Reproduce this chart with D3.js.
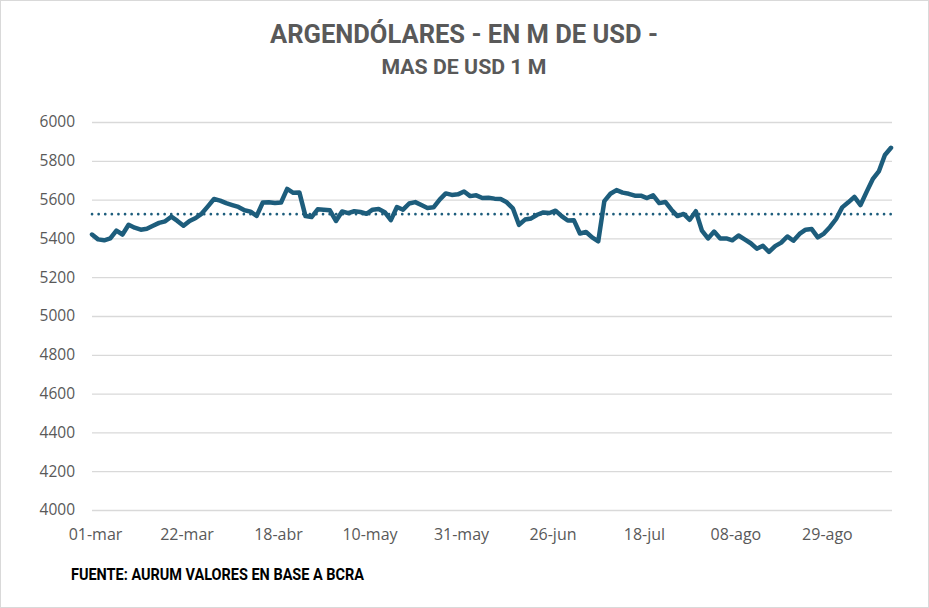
<!DOCTYPE html>
<html>
<head>
<meta charset="utf-8">
<script src="https://cdn.jsdelivr.net/npm/d3@7"></script>
<style>
  body { margin: 0; background: #fff; }
  svg { display: block; }
</style>
</head>
<body>
<div id="chart"></div>
<script>
// fechas (días hábiles 2024)
var dates = [
  "01-mar","04-mar","05-mar","06-mar","07-mar","08-mar","11-mar","12-mar","13-mar","14-mar","15-mar","18-mar","19-mar","20-mar","21-mar","22-mar","25-mar","26-mar","27-mar",
  "03-abr","04-abr","05-abr","08-abr","09-abr","10-abr","11-abr","12-abr","15-abr","16-abr","17-abr","18-abr","19-abr","22-abr","23-abr","24-abr","25-abr","26-abr","29-abr","30-abr",
  "02-may","03-may","06-may","07-may","08-may","09-may","10-may","13-may","14-may","15-may","16-may","17-may","20-may","21-may","22-may","23-may","24-may","27-may","28-may","29-may","30-may","31-may",
  "03-jun","04-jun","05-jun","06-jun","07-jun","10-jun","11-jun","12-jun","13-jun","14-jun","18-jun","19-jun","24-jun","25-jun","26-jun","27-jun","28-jun",
  "01-jul","02-jul","03-jul","04-jul","05-jul","08-jul","10-jul","11-jul","12-jul","15-jul","16-jul","17-jul","18-jul","19-jul","22-jul","23-jul","24-jul","25-jul","26-jul","29-jul","30-jul","31-jul",
  "01-ago","02-ago","05-ago","06-ago","07-ago","08-ago","09-ago","12-ago","13-ago","14-ago","15-ago","16-ago","19-ago","20-ago","21-ago","22-ago","23-ago","26-ago","27-ago","28-ago","29-ago","30-ago",
  "02-sep","03-sep","04-sep","05-sep","06-sep","09-sep","10-sep","11-sep","12-sep","13-sep"
];

// argendólares, M de USD
var values = [
  5420,5395,5390,5400,5440,5420,5470,5455,5445,5450,5465,5480,5488,5512,5490,5465,5490,5505,5528,
  5565,5603,5595,5582,5572,5562,5545,5538,5516,5585,5586,5582,5585,5655,5635,5637,5515,5510,5550,5548,
  5545,5490,5539,5530,5540,5536,5527,5548,5552,5535,5494,5562,5548,5580,5587,5572,5557,5560,5600,5632,5624,5627,
  5642,5618,5622,5608,5609,5605,5603,5586,5555,5470,5497,5503,5522,5534,5531,5543,5515,
  5492,5494,5425,5433,5405,5385,5592,5630,5649,5636,5630,5620,5620,5608,5622,5582,5588,5548,5515,5526,5496,5540,
  5440,5400,5435,5400,5400,5390,5415,5395,5375,5347,5362,5330,5360,5378,5410,5388,5423,5445,5448,5405,5425,5459,
  5500,5560,5586,5614,5572,5640,5705,5745,5830,5867
];

var avgValue = 5525;

var xTickLabels = ["01-mar","22-mar","18-abr","10-may","31-may","26-jun","18-jul","08-ago","29-ago"];
var yTicks = [4000,4200,4400,4600,4800,5000,5200,5400,5600,5800,6000];

var svgWidth = 929;
var svgHeight = 608;

var margin = { top: 122, right: 37, bottom: 98, left: 92 };
var width = svgWidth - margin.left - margin.right;
var height = svgHeight - margin.top - margin.bottom;

var lineColor = "#1d5d7c";
var textColor = "#595959";

var svg = d3.select("#chart")
  .append("svg")
  .attr("width", svgWidth)
  .attr("height", svgHeight);

// borde del gráfico
svg.append("rect")
  .attr("x", 0.5).attr("y", 0.5)
  .attr("width", svgWidth - 1).attr("height", svgHeight - 1)
  .attr("fill", "#fff")
  .attr("stroke", "#d9d9d9");

var chartGroup = svg.append("g")
  .attr("transform", `translate(${margin.left}, ${margin.top})`);

var xScale = d3.scalePoint()
  .domain(dates)
  .range([0, width - 1]);

var yScale = d3.scaleLinear()
  .domain([4000, 6000])
  .range([height, 0]);

// grid
var leftAxis = d3.axisLeft(yScale)
  .tickValues(yTicks)
  .tickSize(-width)
  .tickPadding(17)
  .tickFormat(d3.format("d"));

var yAxisG = chartGroup.append("g").call(leftAxis);
yAxisG.select(".domain").remove();
yAxisG.selectAll(".tick line")
  .attr("stroke", "#d9d9d9")
  .attr("stroke-width", 1.3);
yAxisG.selectAll(".tick text")
  .attr("fill", textColor)
  .attr("font-family", "'Open Sans', sans-serif")
  .attr("font-size", "15.5px");

var bottomAxis = d3.axisBottom(xScale)
  .tickValues(xTickLabels)
  .tickSize(0)
  .tickPadding(19);

var xAxisG = chartGroup.append("g")
  .attr("transform", `translate(0, ${height})`)
  .call(bottomAxis);
xAxisG.select(".domain").remove();
xAxisG.selectAll(".tick text")
  .attr("fill", textColor)
  .attr("font-family", "'Open Sans', sans-serif")
  .attr("font-size", "16px")
  .attr("dx", 3);

// línea de promedio
chartGroup.append("line")
  .attr("x1", 0)
  .attr("x2", width)
  .attr("y1", yScale(avgValue))
  .attr("y2", yScale(avgValue))
  .attr("stroke", lineColor)
  .attr("stroke-width", 2.6)
  .attr("stroke-linecap", "round")
  .attr("stroke-dasharray", "0.1 6.5");

// serie
var line = d3.line()
  .x((d, i) => xScale(dates[i]))
  .y(d => yScale(d));

chartGroup.append("path")
  .datum(values)
  .attr("d", line)
  .attr("fill", "none")
  .attr("stroke", lineColor)
  .attr("stroke-width", 4.5)
  .attr("stroke-linejoin", "round")
  .attr("stroke-linecap", "round");

// títulos
svg.append("text")
  .attr("x", 464)
  .attr("y", 43)
  .attr("text-anchor", "middle")
  .attr("fill", textColor)
  .attr("font-family", "Roboto, sans-serif")
  .attr("font-weight", "bold")
  .attr("font-size", "25.5px")
  .attr("textLength", 388)
  .attr("lengthAdjust", "spacingAndGlyphs")
  .text("ARGENDÓLARES - EN M DE USD -");

svg.append("text")
  .attr("x", 464)
  .attr("y", 74)
  .attr("text-anchor", "middle")
  .attr("fill", textColor)
  .attr("font-family", "Roboto, sans-serif")
  .attr("font-weight", "bold")
  .attr("font-size", "20.5px")
  .attr("textLength", 165)
  .attr("lengthAdjust", "spacingAndGlyphs")
  .text("MAS DE USD 1 M");

svg.append("text")
  .attr("x", 71)
  .attr("y", 580)
  .attr("fill", "#000")
  .attr("font-family", "Roboto, sans-serif")
  .attr("font-weight", "bold")
  .attr("font-size", "16px")
  .attr("textLength", 293)
  .attr("lengthAdjust", "spacingAndGlyphs")
  .text("FUENTE: AURUM VALORES EN BASE A BCRA");
</script>
</body>
</html>
